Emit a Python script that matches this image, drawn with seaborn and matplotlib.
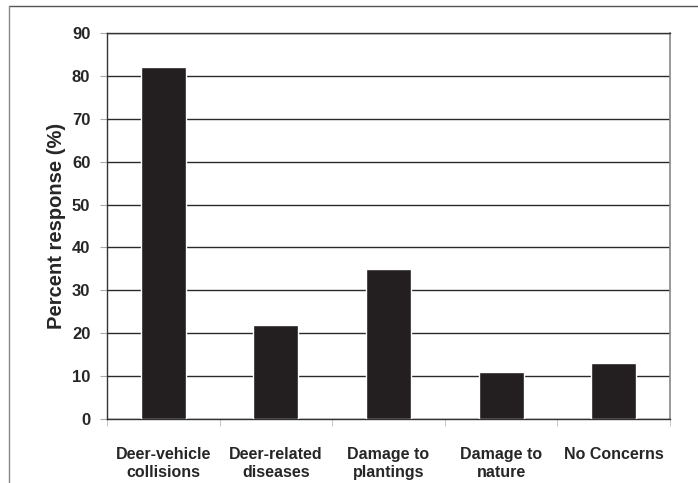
import matplotlib
matplotlib.use("Agg")
import matplotlib.pyplot as plt
import seaborn as sns
from matplotlib.lines import Line2D

categories = ["Deer-vehicle\ncollisions", "Deer-related\ndiseases", "Damage to\nplantings",
              "Damage to\nnature", "No Concerns"]
percent = [82, 22, 35, 11, 13]
y_ticks = [0, 10, 20, 30, 40, 50, 60, 70, 80, 90]

sns.set_style("white")
plt.rcParams['font.family'] = ['Liberation Sans', 'DejaVu Sans']
plt.rcParams['font.weight'] = 'bold'

fig = plt.figure(figsize=(6.98, 4.83), dpi=100)
ax = fig.add_axes([107 / 698, 1 - 419 / 483, 563 / 698, 386 / 483])

sns.barplot(x=categories, y=percent, color="#231f20", width=0.4, saturation=1, ax=ax, zorder=3)

ax.set_ylim(0, 90)
ax.set_yticks(y_ticks)
ax.set_xlim(-0.5, len(categories) - 0.5)
ax.yaxis.grid(True, color="#2a2a2a", linewidth=1.0, zorder=0)
ax.set_axisbelow(True)

for s in ["left", "top", "bottom"]:
    ax.spines[s].set_color("#333333")
    ax.spines[s].set_linewidth(1.0)
ax.spines["right"].set_color("#888888")
ax.spines["right"].set_linewidth(1.2)

ax.set_xticks([i - 0.5 for i in range(len(categories) + 1)], minor=True)
ax.set_xticks(range(len(categories)))
ax.set_xticklabels(categories, fontsize=11.5, fontweight='bold', linespacing=1.25)
ax.tick_params(axis='x', which='major', length=0, pad=20)
ax.tick_params(axis='x', which='minor', length=5, color="#bbbbbb", direction='out', bottom=True)
ax.tick_params(axis='y', length=5, color="#aaaaaa", direction='out', left=True, labelsize=12, pad=7)
for t in ax.get_yticklabels():
    t.set_fontweight('bold')

ax.set_xlabel("")
ax.set_ylabel("Percent response (%)", fontsize=14.5, fontweight='bold')
ax.yaxis.set_label_coords(-0.072, 0.5)

# scanned page frame
fig.add_artist(Line2D([9 / 698, 1], [1 - 6 / 483, 1 - 6 / 483], color="#555555", linewidth=1.0))
fig.add_artist(Line2D([9 / 698, 9 / 698], [0, 1 - 6 / 483], color="#888888", linewidth=1.0))

fig.savefig("out.png", dpi=100)
